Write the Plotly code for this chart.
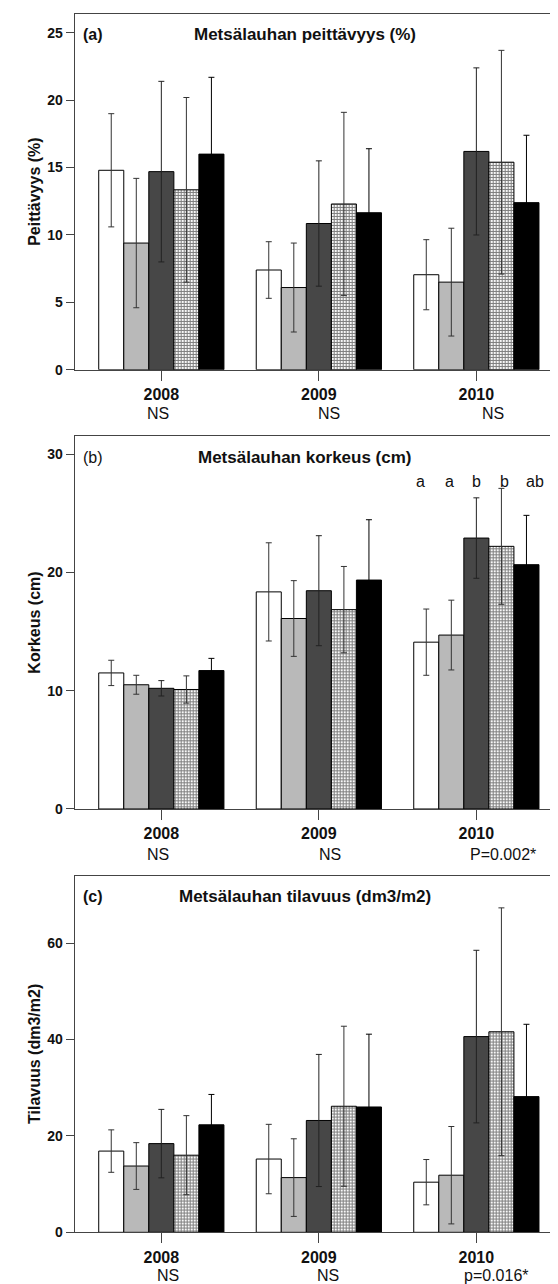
import plotly.graph_objects as go

W, H = 558, 1284

years = ["2008", "2009", "2010"]
treatments = ["T1", "T2", "T3", "T4", "T5"]

# Panel (a): Peittävyys (%)
cover_mean = [
    [14.8, 7.4, 7.05],   # white
    [9.4, 6.1, 6.5],     # light grey
    [14.7, 10.85, 16.2], # dark grey
    [13.35, 12.3, 15.4], # checkered
    [16.0, 11.65, 12.4], # black
]
cover_err = [
    [4.2, 2.1, 2.6],
    [4.8, 3.3, 4.0],
    [6.7, 4.65, 6.2],
    [6.85, 6.8, 8.3],
    [5.7, 4.75, 5.0],
]

# Panel (b): Korkeus (cm)
height_mean = [
    [11.5, 18.35, 14.1],
    [10.5, 16.1, 14.7],
    [10.2, 18.45, 22.9],
    [10.1, 16.85, 22.2],
    [11.7, 19.35, 20.65],
]
height_err = [
    [1.07, 4.15, 2.8],
    [0.8, 3.2, 2.95],
    [0.65, 4.65, 3.4],
    [1.15, 3.65, 4.9],
    [1.03, 5.1, 4.17],
]

# Panel (c): Tilavuus (dm3/m2)
vol_mean = [
    [16.85, 15.2, 10.4],
    [13.75, 11.35, 11.85],
    [18.4, 23.2, 40.6],
    [16.0, 26.15, 41.6],
    [22.3, 26.0, 28.15],
]
vol_err = [
    [4.4, 7.2, 4.7],
    [4.85, 8.05, 10.1],
    [7.1, 13.7, 17.9],
    [8.2, 16.6, 25.7],
    [6.3, 15.1, 15.0],
]

panel_titles = ["Metsälauhan peittävyys (%)", "Metsälauhan korkeus (cm)", "Metsälauhan tilavuus (dm3/m2)"]
panel_tags = ["<b>(a)</b>", "(b)", "<b>(c)</b>"]
y_titles = ["Peittävyys (%)", "Korkeus (cm)", "Tilavuus (dm3/m2)"]
y_ranges = [[0, 26.4], [0, 31.5], [0, 74]]
y_ticks = [[0, 5, 10, 15, 20, 25], [0, 10, 20, 30], [0, 20, 40, 60]]
sig_labels = [["NS", "NS", "NS"], ["NS", "NS", "P=0.002*"], ["NS", "NS", "p=0.016*"]]
letters_b = ["a", "a", "b", "b", "ab"]

fills = ["#ffffff", "#b9b9b9", "#474747", "#ffffff", "#000000"]
err_colors = ["#333333", "#333333", "#222222", "#333333", "#000000"]

# pixel layout (top, bottom) of each plot frame
frames = [(6, 364), (431, 806), (873, 1232)]
x_left, x_right = 66.7, 555

def py(p):
    return 1 - p / H

def px(p):
    return p / W

fig = go.Figure()
datasets = [(cover_mean, cover_err), (height_mean, height_err), (vol_mean, vol_err)]
for k, (means, errs) in enumerate(datasets):
    xa = "x" if k == 0 else f"x{k+1}"
    ya = "y" if k == 0 else f"y{k+1}"
    for i in range(5):
        marker = dict(color=fills[i], line=dict(color="#000000", width=1))
        if i == 3:
            marker["pattern"] = dict(shape="+", size=3, solidity=0.6,
                                     fgcolor="#000000", bgcolor="#ffffff")
        fig.add_trace(go.Bar(
            x=years, y=means[i], name=treatments[i], xaxis=xa, yaxis=ya,
            marker=marker, showlegend=False,
            error_y=dict(type="data", array=errs[i], visible=True,
                         color=err_colors[i], thickness=1, width=3),
        ))

layout = dict(
    width=W, height=H,
    margin=dict(l=0, r=0, t=0, b=0),
    paper_bgcolor="white", plot_bgcolor="white",
    barmode="group", bargap=0.205, bargroupgap=0,
    font=dict(family="Liberation Sans, Arial, sans-serif", color="#111111"),
)
annotations = []
for k in range(3):
    sfx = "" if k == 0 else str(k + 1)
    top, bot = frames[k]
    layout["xaxis" + sfx] = dict(
        domain=[px(x_left), px(x_right)], anchor="y" + sfx,
        type="category", range=[-0.55, 2.55],
        showline=True, mirror=True, linecolor="#444444", linewidth=1,
        ticks="outside", ticklen=10, tickcolor="#444444",
        tickfont=dict(size=16, weight="bold", color="#111111"),
        showgrid=False, zeroline=False, fixedrange=True,
    )
    layout["yaxis" + sfx] = dict(
        domain=[py(bot), py(top)], anchor="x" + sfx,
        range=y_ranges[k], tickvals=y_ticks[k],
        showline=True, mirror=True, linecolor="#444444", linewidth=1,
        ticks="outside", ticklen=8, tickcolor="#444444",
        tickfont=dict(size=14, weight="bold", color="#111111"),
        showgrid=False, zeroline=False, fixedrange=True,
    )
    # panel tag and title
    annotations.append(dict(xref="paper", yref="paper", x=px(73), y=py(top + 21),
                            xanchor="left", yanchor="middle", showarrow=False,
                            text=panel_tags[k], font=dict(size=16)))
    annotations.append(dict(xref="paper", yref="paper", x=px(297), y=py(top + 21),
                            xanchor="center", yanchor="middle", showarrow=False,
                            text="<b>" + panel_titles[k] + "</b>", font=dict(size=17)))
    # y axis title
    annotations.append(dict(xref="paper", yref="paper", x=px(27), y=py((top + bot) / 2),
                            xanchor="center", yanchor="middle", showarrow=False, textangle=-90,
                            text="<b>" + y_titles[k] + "</b>", font=dict(size=16)))

# significance labels below years
sig_x = [[150, 321, 485], [150, 322, 495], [160, 320, 488]]
sig_y = [408, 852, 1275]
for k in range(3):
    for j in range(3):
        annotations.append(dict(xref="paper", yref="paper", x=px(sig_x[k][j]), y=py(sig_y[k]),
                                xanchor="center", yanchor="middle", showarrow=False,
                                text=sig_labels[k][j], font=dict(size=16)))

# letters above 2010 bars in panel (b)
letter_x = [412, 441, 468, 496, 527]
for i, t in enumerate(letters_b):
    annotations.append(dict(xref="paper", yref="paper", x=px(letter_x[i]), y=py(476),
                            xanchor="center", yanchor="middle", showarrow=False,
                            text=t, font=dict(size=16)))

layout["annotations"] = annotations
fig.update_layout(**layout)
fig.write_html("out.html")
